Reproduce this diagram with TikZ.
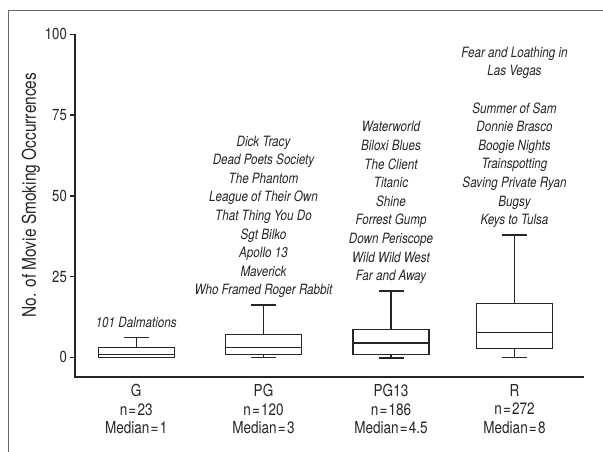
\documentclass[tikz,border=0pt]{standalone}
\usepackage{fontspec}
\setmainfont[FakeStretch=0.82]{TeX Gyre Heros}
\usepackage{tikz}
\definecolor{ChartInk}{HTML}{262626}
\definecolor{FrameGray}{HTML}{666666}
\newcommand{\eqsign}{\kern1.2pt=\kern1.2pt}

\begin{document}
\begin{tikzpicture}[
    x=1pt, y=-1pt,
    ink/.style={draw=ChartInk, line width=1.4pt},
    ticklabel/.style={anchor=east, inner sep=0pt, text=ChartInk, font=\fontsize{16}{19}\selectfont},
    catlabel/.style={anchor=north, inner sep=0pt, align=center, text=ChartInk, font=\fontsize{16.5}{18.7}\selectfont},
    movies/.style={anchor=north, inner sep=0pt, align=center, text=ChartInk, font=\fontsize{14.2}{18.6}\selectfont\itshape}
  ]
  \useasboundingbox (0,0) rectangle (603,452);

  % outer frame
  \draw[FrameGray, line width=1pt] (8.5,452) -- (8.5,10.5) -- (603,10.5);

  % axes and ticks
  \draw[ink] (75,34) -- (75,377) -- (584,377);
  \foreach \v in {0,25,50,75,100} {
    \draw[ink] (70,{357.3-3.23*\v}) -- (75,{357.3-3.23*\v});
    \node[ticklabel] (tick-\v) at (67,{357.3-3.23*\v}) {\v};
  }
  \node[rotate=90, inner sep=0pt, text=ChartInk, font=\fontsize{18.9}{22}\selectfont] (ylabel) at (31,195) {No. of Movie Smoking Occurrences};

  % boxes: centre / low / Q1 / median / Q3 / high
  \begin{scope}[shift={(0,357.3)}, y=3.23pt]
    \foreach \cx/\lo/\qa/\md/\qb/\hi in {136.2/0/0/0.8/3.1/6.1, 263.5/0/0.93/3.1/7.1/16.2, 391/-0.2/0.87/4.37/8.67/20.5, 514.5/0/2.8/7.6/16.7/37.9} {
      \draw[ink] (\cx,\qb) -- (\cx,\hi) (\cx-12.5,\hi) -- (\cx+12.5,\hi);
      \draw[ink] (\cx,\qa) -- (\cx,\lo) (\cx-12.5,\lo) -- (\cx+12.5,\lo);
      \draw[ink] (\cx-38,\qa) rectangle (\cx+38,\qb);
      \draw[ink] (\cx-38,\md) -- (\cx+38,\md);
    }
  \end{scope}

  % movie titles above the whiskers
  \node[movies] (g-titles) at (136.2,317) {101 Dalmations};
  \node[movies] (pg-titles) at (263.5,135.5) {Dick Tracy\\Dead Poets Society\\The Phantom\\League of Their Own\\That Thing You Do\\Sgt Bilko\\Apollo 13\\Maverick\\Who Framed Roger Rabbit};
  \node[movies] (pg13-titles) at (391,121.3) {Waterworld\\Biloxi Blues\\The Client\\Titanic\\Shine\\Forrest Gump\\Down Periscope\\Wild Wild West\\Far and Away};
  \node[movies] (r-titles) at (514.5,46.7) {Fear and Loathing in\\Las Vegas\\[18.6pt]Summer of Sam\\Donnie Brasco\\Boogie Nights\\Trainspotting\\Saving Private Ryan\\Bugsy\\Keys to Tulsa};

  % rating categories
  \node[catlabel] (cat-g) at (136.2,384) {G\\n\eqsign23\\Median\eqsign1};
  \node[catlabel] (cat-pg) at (263.5,384) {PG\\n\eqsign120\\Median\eqsign3};
  \node[catlabel] (cat-pg13) at (391,384) {PG13\\n\eqsign186\\Median\eqsign4.5};
  \node[catlabel] (cat-r) at (514.5,384) {R\\n\eqsign272\\Median\eqsign8};
\end{tikzpicture}
\end{document}
